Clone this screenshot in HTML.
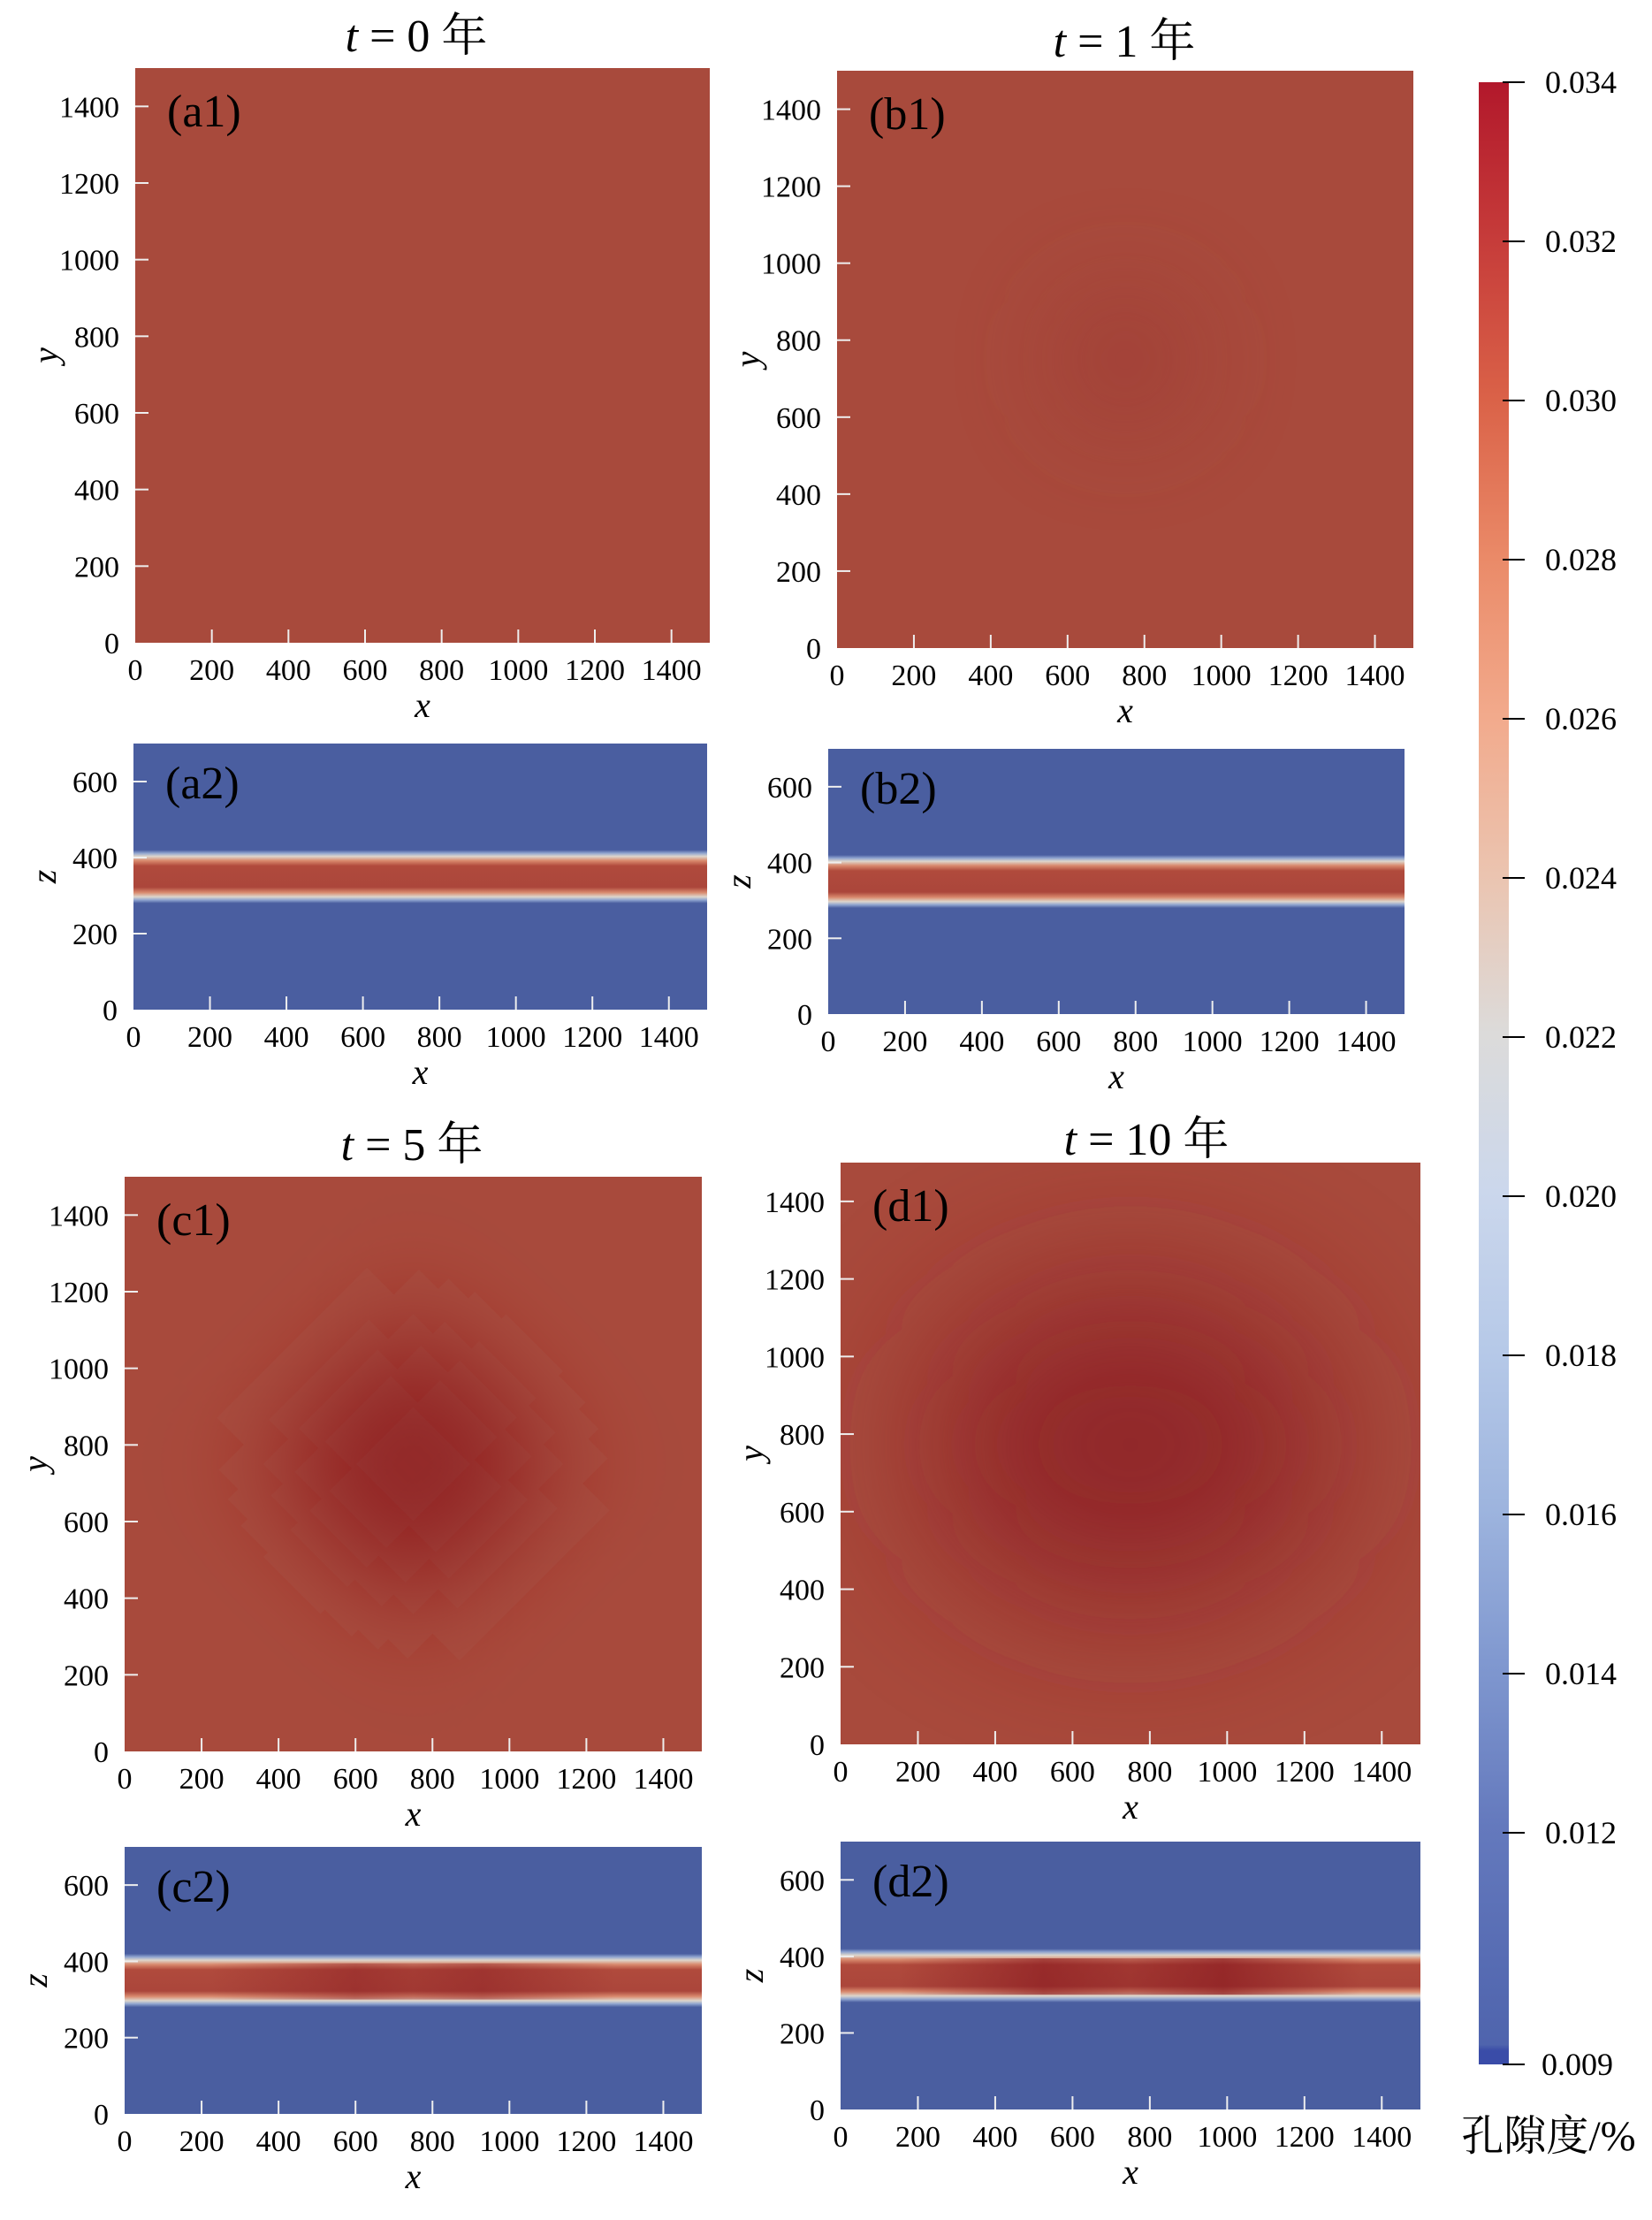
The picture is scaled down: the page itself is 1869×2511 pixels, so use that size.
<!DOCTYPE html>
<html><head><meta charset="utf-8"><style>
html,body{margin:0;padding:0;background:#fff;}
svg text{font-family:"Liberation Serif","Noto Serif CJK SC",serif;fill:#000;}
</style></head><body>
<svg id="s" xmlns="http://www.w3.org/2000/svg" width="1869" height="2506" viewBox="0 0 1869 2506">
<defs>
<filter id="bl" x="-80%" y="-80%" width="260%" height="260%"><feGaussianBlur stdDeviation="60"/></filter>
<filter id="bl2" x="-80%" y="-80%" width="260%" height="260%"><feGaussianBlur stdDeviation="90"/></filter>
<linearGradient id="band" x1="0" y1="0" x2="0" y2="1">
<stop offset="0" stop-color="#4a5ea0"/>
<stop offset="0.06" stop-color="#8fa4cf"/>
<stop offset="0.12" stop-color="#ddd6cc"/>
<stop offset="0.2" stop-color="#d98a6e"/>
<stop offset="0.3" stop-color="#b04a3c"/>
<stop offset="0.7" stop-color="#ab463b"/>
<stop offset="0.8" stop-color="#d98a6e"/>
<stop offset="0.88" stop-color="#ddd6cc"/>
<stop offset="0.94" stop-color="#8fa4cf"/>
<stop offset="1" stop-color="#4a5ea0"/>
</linearGradient>
<linearGradient id="cb" x1="0" y1="0" x2="0" y2="1">
<stop offset="0" stop-color="#b2182b"/>
<stop offset="0.08" stop-color="#c63c3a"/>
<stop offset="0.16" stop-color="#da6248"/>
<stop offset="0.24" stop-color="#ea8a68"/>
<stop offset="0.32" stop-color="#f2aa8c"/>
<stop offset="0.40" stop-color="#ebc4b0"/>
<stop offset="0.48" stop-color="#dcdbda"/>
<stop offset="0.56" stop-color="#cbd7ec"/>
<stop offset="0.64" stop-color="#b6c9e8"/>
<stop offset="0.72" stop-color="#9db4de"/>
<stop offset="0.80" stop-color="#7f97cf"/>
<stop offset="0.88" stop-color="#6479bd"/>
<stop offset="0.99" stop-color="#4f64ad"/>
<stop offset="0.993" stop-color="#3a4ca8"/>
<stop offset="1" stop-color="#3a4ca8"/>
</linearGradient>
<linearGradient id="c2h" x1="0" y1="0" x2="1" y2="0">
<stop offset="0.15" stop-color="#8a1a20" stop-opacity="0"/>
<stop offset="0.4" stop-color="#8a1a20" stop-opacity="0.45"/>
<stop offset="0.5" stop-color="#8a1a20" stop-opacity="0.3"/>
<stop offset="0.62" stop-color="#8a1a20" stop-opacity="0.45"/>
<stop offset="0.85" stop-color="#8a1a20" stop-opacity="0"/>
</linearGradient>
<linearGradient id="d2h" x1="0" y1="0" x2="1" y2="0">
<stop offset="0.1" stop-color="#8a1a20" stop-opacity="0"/>
<stop offset="0.35" stop-color="#8a1a20" stop-opacity="0.65"/>
<stop offset="0.5" stop-color="#8a1a20" stop-opacity="0.4"/>
<stop offset="0.66" stop-color="#8a1a20" stop-opacity="0.7"/>
<stop offset="0.9" stop-color="#8a1a20" stop-opacity="0"/>
</linearGradient>
</defs>
</svg>
<script>
var s=document.getElementById('s');var h='';
function T(x,y,t,sz,anc,ex){h+='<text x="'+x+'" y="'+y+'" font-size="'+sz+'" text-anchor="'+(anc||'middle')+'" '+(ex||'')+'>'+t+'</text>';}
function P(x0,y0,x1,y1,ymax,lab,kind,ax){
 var w=x1-x0,hh=y1-y0;var id='c'+lab.replace(/\W/g,'');
 h+='<clipPath id="'+id+'"><rect x="'+x0+'" y="'+y0+'" width="'+w+'" height="'+hh+'"/></clipPath>';
 if(ymax==1500){
  h+='<rect x="'+x0+'" y="'+y0+'" width="'+w+'" height="'+hh+'" fill="#a84a3c"/>';
  var cx=x0+w*0.5,cy=y0+hh*0.5;
  if(kind==1)h+='<g clip-path="url(#'+id+')"><circle cx="'+cx+'" cy="'+cy+'" r="80" fill="#9a3630" opacity="0.45" filter="url(#bl)"/></g>';
  if(kind==2)h+='<g clip-path="url(#'+id+')"><rect x="'+(cx-120)+'" y="'+(cy-120)+'" width="240" height="240" transform="rotate(45 '+cx+' '+cy+')" fill="#922828" filter="url(#bl)"/></g>';
  if(kind==3)h+='<g clip-path="url(#'+id+')"><ellipse cx="'+cx+'" cy="'+(cy-10)+'" rx="230" ry="180" fill="#8e2226" opacity="0.9" filter="url(#bl2)"/></g>';
 }else{
  h+='<rect x="'+x0+'" y="'+y0+'" width="'+w+'" height="'+hh+'" fill="#4a5ea0"/>';
  var py=function(z){return y1-z/700*hh;};
  h+='<rect x="'+x0+'" y="'+py(420)+'" width="'+w+'" height="'+(py(280)-py(420))+'" fill="url(#band)"/>';
  if(kind==2)h+='<rect x="'+x0+'" y="'+py(395)+'" width="'+w+'" height="'+(py(300)-py(395))+'" fill="url(#c2h)"/>';
  if(kind==3)h+='<rect x="'+x0+'" y="'+py(395)+'" width="'+w+'" height="'+(py(300)-py(395))+'" fill="url(#d2h)"/>';
 }
 for(var v=0;v<=ymax;v+=200){var y=y1-v/ymax*hh;
  if(v>0)h+='<line x1="'+x0+'" y1="'+y+'" x2="'+(x0+15)+'" y2="'+y+'" stroke="#eee" stroke-width="2"/>';
  T(x0-18,y+12,v,34,'end');}
 for(var v=0;v<=1400;v+=200){var x=x0+v/1500*w;
  if(v>0)h+='<line x1="'+x+'" y1="'+y1+'" x2="'+x+'" y2="'+(y1-15)+'" stroke="#eee" stroke-width="2"/>';
  T(x,y1+42,v,34);}
 T(x0+w/2,y1+84,'x',40,'middle','font-style="italic"');
 var ly=y0+hh/2;
 h+='<text x="'+(x0-100)+'" y="'+ly+'" font-size="40" text-anchor="middle" font-style="italic" transform="rotate(-90 '+(x0-100)+' '+ly+')" dy="12">'+ax+'</text>';
 T(x0+36,y0+(ymax==1500?66:62),lab,52,'start');
}
P(153,77,803,727,1500,'(a1)',0,'y');
P(151,841,800,1142,700,'(a2)',0,'z');
P(947,80,1599,733,1500,'(b1)',1,'y');
P(937,847,1589,1147,700,'(b2)',1,'z');
P(141,1331,794,1981,1500,'(c1)',2,'y');
P(141,2089,794,2391,700,'(c2)',2,'z');
P(951,1315,1607,1973,1500,'(d1)',3,'y');
P(951,2083,1607,2386,700,'(d2)',3,'z');
function TT(x,y,n){h+='<text x="'+x+'" y="'+y+'" font-size="52" text-anchor="middle"><tspan font-style="italic">t</tspan> = '+n+' 年</text>';}
TT(471,58,'0');TT(1272,64,'1');TT(466,1312,'5');TT(1297,1306,'10');
h+='<rect x="1673" y="93" width="34" height="2242" fill="url(#cb)"/>';
var labs=['0.034','0.032','0.030','0.028','0.026','0.024','0.022','0.020','0.018','0.016','0.014','0.012'];
for(var i=0;i<labs.length;i++){var y=93+i*180;h+='<line x1="1700" y1="'+y+'" x2="1725" y2="'+y+'" stroke="#000" stroke-width="2"/>';T(1748,y+12,labs[i],36,'start');}
h+='<line x1="1700" y1="2335" x2="1725" y2="2335" stroke="#000" stroke-width="2"/>';T(1744,2347,'0.009',36,'start');
T(1752,2432,'孔隙度/%',48);
s.insertAdjacentHTML('beforeend',h);
</script>
</body></html>
